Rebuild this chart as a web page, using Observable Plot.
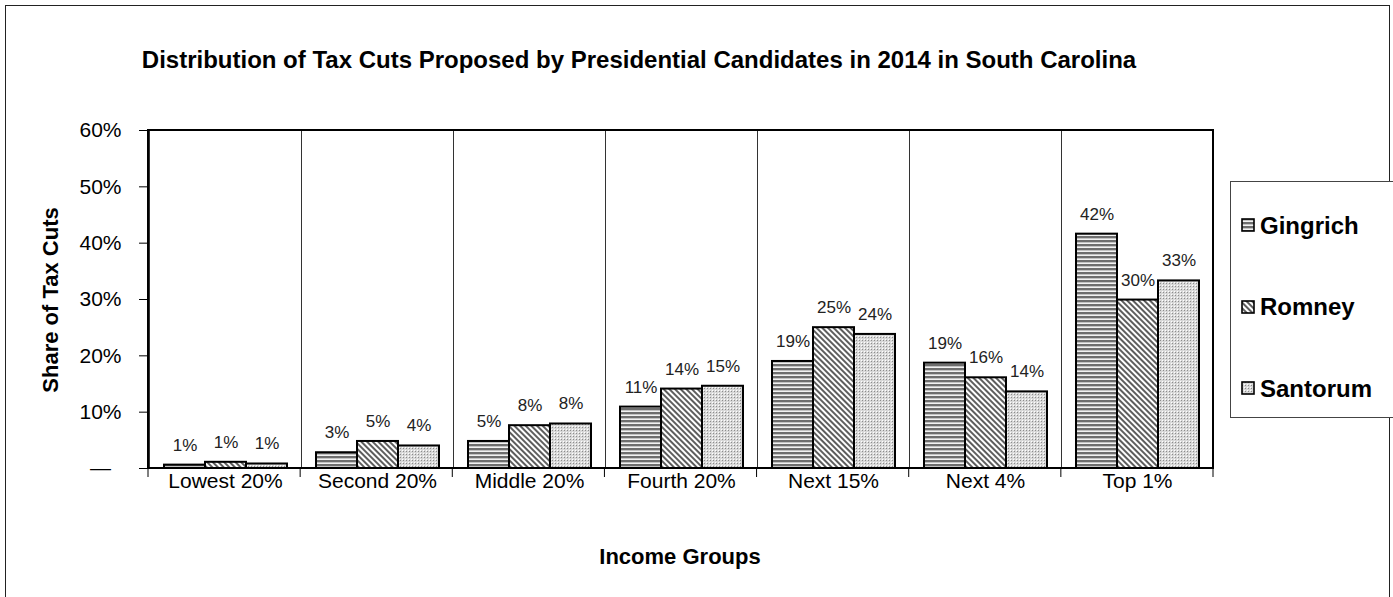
<!DOCTYPE html>
<html>
<head>
<meta charset="utf-8">
<script src="https://cdn.jsdelivr.net/npm/d3@7"></script>
<script src="https://cdn.jsdelivr.net/npm/@observablehq/plot@0.6"></script>
<style>
  html, body { margin: 0; padding: 0; background: #fff; }
  #wrap { position: relative; width: 1393px; height: 597px; overflow: hidden; background: #fff;
          font-family: "Liberation Sans", Arial, sans-serif; color: #000; }
  #border { position: absolute; left: 5px; top: 5px; width: 1385px; height: 620px; border: 1px solid #222; box-sizing: border-box; }
  #title { position: absolute; left: 0; width: 1278px; top: 45px; line-height: 30px; text-align: center;
           font-weight: bold; font-size: 24px; }
  #ylabel { position: absolute; left: 51px; top: 300px; transform: translate(-50%, -50%) rotate(-90deg);
            white-space: nowrap; font-weight: bold; font-size: 22px; }
  #xlabel { position: absolute; left: 680px; top: 557px; transform: translate(-50%, -50%);
            white-space: nowrap; font-weight: bold; font-size: 22px; }
  #chart { position: absolute; left: 0; top: 0; }
  #legend { position: absolute; left: 1230px; top: 181px; width: 200px; height: 237px; border: 1px solid #444;
            box-sizing: border-box; padding-top: 3px; background: #fff; }
  .item { height: 81.5px; display: flex; align-items: center; padding-left: 10px; font-weight: bold; font-size: 24px; }
  .item svg { margin-right: 4px; }
</style>
</head>
<body>
<svg width="0" height="0" style="position:absolute">
  <defs>
    <pattern id="pat-Gingrich" patternUnits="userSpaceOnUse" width="4" height="4">
      <rect width="4" height="4" fill="#f2f2f2"/>
      <rect y="0" width="4" height="2" fill="#6e6e6e"/>
      <rect y="2" width="4" height="0.8" fill="#b8b8b8"/>
    </pattern>
    <pattern id="pat-Romney" patternUnits="userSpaceOnUse" width="4" height="4" patternTransform="rotate(45)">
      <rect width="4" height="4" fill="#ffffff"/>
      <rect y="0" width="4" height="2" fill="#5e5e5e"/>
    </pattern>
    <pattern id="pat-Santorum" patternUnits="userSpaceOnUse" width="3" height="3">
      <rect width="3" height="3" fill="#d8d8d8"/>
      <rect x="0" y="0" width="1" height="1" fill="#ffffff"/>
      <rect x="1" y="1" width="1" height="1" fill="#8c8c8c"/>
    </pattern>
  </defs>
</svg>
<div id="wrap">
  <div id="border"></div>
  <div id="chart"></div>
  <div id="title">Distribution of Tax Cuts Proposed by Presidential Candidates in 2014 in South Carolina</div>
  <div id="ylabel">Share of Tax Cuts</div>
  <div id="xlabel">Income Groups</div>
  <div id="legend"></div>
</div>
<script>
// ---- data ----
const groups = ["Lowest 20%", "Second 20%", "Middle 20%", "Fourth 20%", "Next 15%", "Next 4%", "Top 1%"];
const candidates = ["Gingrich", "Romney", "Santorum"];
const gingrich = [0.6, 2.8, 4.8, 10.9, 19.0, 18.7, 41.6];
const romney   = [1.1, 4.8, 7.6, 14.1, 25.0, 16.1, 29.9];
const santorum = [0.8, 4.0, 7.9, 14.6, 23.8, 13.6, 33.3];
const yTicks = [0, 10, 20, 30, 40, 50, 60];

const seriesValues = {Gingrich: gingrich, Romney: romney, Santorum: santorum};
const rows = [];
groups.forEach((g, i) => candidates.forEach(c => rows.push({group: g, series: c, value: seriesValues[c][i]})));

const W = 1393, H = 597;
const mL = 148, mR = 180, mT = 130, mB = 129;

const chart = Plot.plot({
  width: W,
  height: H,
  marginLeft: mL,
  marginRight: mR,
  marginTop: mT,
  marginBottom: mB,
  style: {fontFamily: "'Liberation Sans', Arial, sans-serif", fontSize: "21px", background: "transparent", color: "#000"},
  facet: {data: rows, x: "group"},
  fx: {domain: groups, padding: 0, label: null, tickSize: 0, tickPadding: 5},
  x: {domain: candidates, paddingInner: 0, paddingOuter: 0.34, axis: null},
  y: {domain: [0, 60], ticks: yTicks, tickSize: 10, tickPadding: 18, label: null,
      tickFormat: d => d === 0 ? "\u2014\u2002" : d + "%"},
  color: {type: "ordinal", domain: candidates, range: candidates.map(c => `url(#pat-${c})`), legend: false},
  marks: [
    Plot.frame({stroke: "#333", strokeWidth: 1}),
    Plot.barY(rows, {x: "series", y: "value", fill: "series", stroke: "#000", strokeWidth: 2}),
    Plot.text(rows, {x: "series", y: "value", text: d => Math.round(d.value) + "%", dy: -20, fontSize: 17, fill: "#222"})
  ]
});
document.getElementById("chart").appendChild(chart);

// outer plot frame (thick) and category boundary ticks
const svg = d3.select(chart);
const pw = W - mL - mR, ph = H - mT - mB;
const step = pw / groups.length;
svg.append("g").selectAll("line")
  .data(d3.range(groups.length + 1))
  .join("line")
  .attr("x1", i => mL + i * step).attr("x2", i => mL + i * step)
  .attr("y1", mT + ph).attr("y2", mT + ph + 9)
  .attr("stroke", "#000").attr("stroke-width", 1);
svg.append("rect")
  .attr("x", mL).attr("y", mT).attr("width", pw).attr("height", ph)
  .attr("fill", "none").attr("stroke", "#000").attr("stroke-width", 2);

// legend
const legend = d3.select("#legend");
candidates.forEach(c => {
  const it = legend.append("div").attr("class", "item");
  const s = it.append("svg").attr("width", 15).attr("height", 15);
  s.append("rect").attr("x", 1).attr("y", 1).attr("width", 12).attr("height", 12)
    .attr("fill", `url(#pat-${c})`).attr("stroke", "#000").attr("stroke-width", 1.6);
  it.append("span").text(c);
});
</script>
</body>
</html>
